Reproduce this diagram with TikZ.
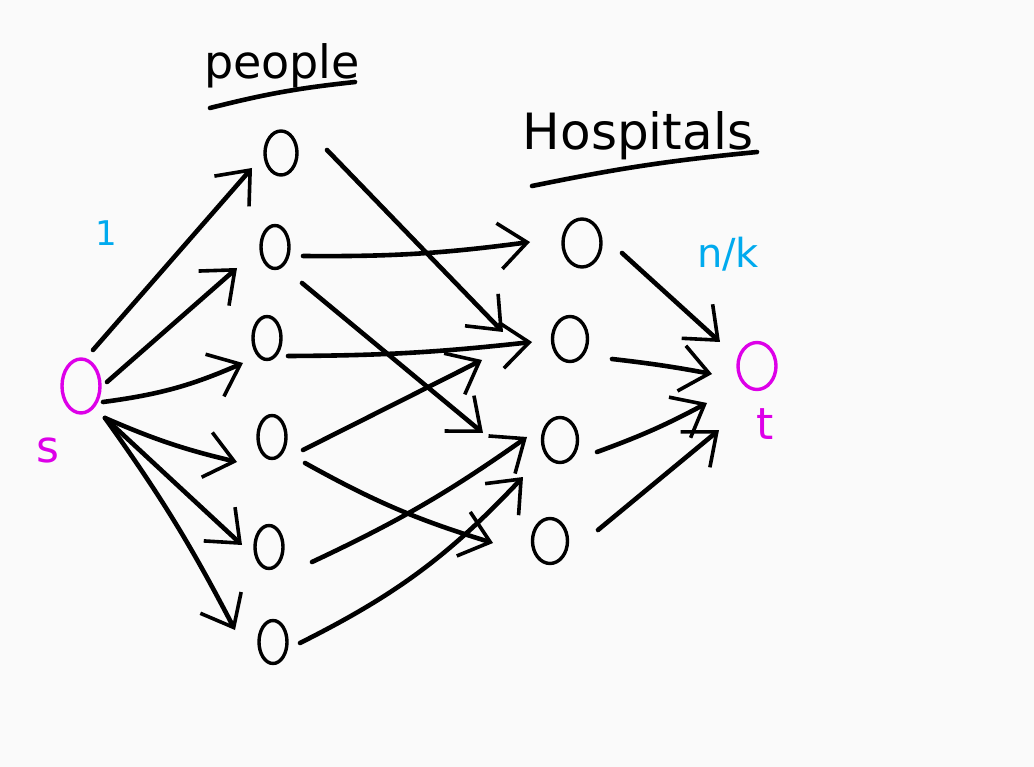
\documentclass[tikz,border=0pt]{standalone}
\usepackage{fontspec}
\setmainfont{DejaVu Sans}
\usetikzlibrary{arrows.meta,shapes.geometric}
\definecolor{bg}{HTML}{FAFAFA}
\definecolor{mag}{HTML}{DD00E8}
\definecolor{sky}{HTML}{00AAEE}
\begin{document}
\begin{tikzpicture}[x=1pt,y=-1pt,
  vtx/.style={ellipse,draw,line width=3.4pt,minimum width=28pt,minimum height=43pt,inner sep=0pt},
  hvtx/.style={vtx,minimum width=35pt,minimum height=45pt},
  edge/.style={line width=4.6pt,line cap=round,
    -{Straight Barb[length=28pt,width=46pt,line width=3.6pt]}},
  lbl/.style={inner sep=0pt},
  uline/.style={line width=4.6pt,line cap=round}
]
\fill[bg] (0,0) rectangle (1034,767);
\useasboundingbox (0,0) rectangle (1034,767);

% titles
\node[lbl] (tp) at (282,66) {\fontsize{46}{52}\selectfont people};
\coordinate (pu1) at (210,108);
\coordinate (pu2) at (355,82);
\draw[uline] (pu1) to[bend left=4] (pu2);
\node[lbl] (th) at (638,136) {\fontsize{50}{56}\selectfont Hospitals};
\coordinate (hu1) at (532,186);
\coordinate (hu2) at (757,152);
\draw[uline] (hu1) to[bend left=3] (hu2);

% source and sink
\node[vtx,draw=mag,minimum width=38pt,minimum height=54pt] (s) at (81,386) {};
\node[lbl,text=mag] (sl) at (48,450) {\fontsize{44}{48}\selectfont s};
\node[lbl,text=sky] (one) at (106,233) {\fontsize{34}{38}\selectfont 1};
\node[vtx,draw=mag,minimum width=38pt,minimum height=47pt] (t) at (757,366) {};
\node[lbl,text=mag] (tl) at (765,424) {\fontsize{44}{48}\selectfont t};
\node[lbl,text=sky] (nk) at (728,254) {\fontsize{40}{46}\selectfont n/k};

% people
\node[vtx,minimum width=32pt,minimum height=44pt] (p1) at (281,153) {};
\node[vtx] (p2) at (275,247) {};
\node[vtx] (p3) at (267,338) {};
\node[vtx] (p4) at (272,437) {};
\node[vtx] (p5) at (269,547) {};
\node[vtx] (p6) at (273,642) {};

% hospitals
\node[hvtx,minimum width=38pt,minimum height=48pt] (h1) at (582,243) {};
\node[hvtx] (h2) at (570,339) {};
\node[hvtx] (h3) at (560,440) {};
\node[hvtx] (h4) at (550,541) {};

% source to people
\draw[edge] ([shift={(12,-36)}]s.center) -- ([shift={(-29,15)}]p1.center);
\draw[edge] ([shift={(26,-4)}]s.center) -- ([shift={(-38,21)}]p2.center);
\draw[edge] ([shift={(22,16)}]s.center) to[bend right=8] ([shift={(-24,25)}]p3.center);
\draw[edge] ([shift={(24,32)}]s.center) to[bend right=5] ([shift={(-35,25)}]p4.center);
\draw[edge] ([shift={(24,32)}]s.center) -- ([shift={(-27,-2)}]p5.center);
\draw[edge] ([shift={(24,32)}]s.center) to[bend left=4] ([shift={(-38,-12)}]p6.center);

% people to hospitals
\draw[edge] ([shift={(46,-3)}]p1.center) -- ([shift={(-67,-7)}]h2.center);
\draw[edge] ([shift={(28,9)}]p2.center) to[bend right=4] ([shift={(-52,-1)}]h1.center);
\draw[edge] ([shift={(27,36)}]p2.center) -- ([shift={(-77,-7)}]h3.center);
\draw[edge] ([shift={(21,18)}]p3.center) to[bend right=3] ([shift={(-38,3)}]h2.center);
\draw[edge] ([shift={(31,13)}]p4.center) -- ([shift={(-88,21)}]h2.center);
\draw[edge] ([shift={(33,26)}]p4.center) to[bend right=6] ([shift={(-57,2)}]h4.center);
\draw[edge] ([shift={(43,15)}]p5.center) to[bend right=5] ([shift={(-33,-3)}]h3.center);
\draw[edge] ([shift={(27,1)}]p6.center) to[bend right=10] ([shift={(-37,37)}]h3.center);

% hospitals to sink
\draw[edge] ([shift={(40,10)}]h1.center) -- ([shift={(-37,-24)}]t.center);
\draw[edge] ([shift={(42,20)}]h2.center) to[bend left=2] ([shift={(-45,8)}]t.center);
\draw[edge] ([shift={(37,12)}]h3.center) to[bend right=4] ([shift={(-50,37)}]t.center);
\draw[edge] ([shift={(48,-11)}]h4.center) -- ([shift={(-38,64)}]t.center);
\end{tikzpicture}
\end{document}
